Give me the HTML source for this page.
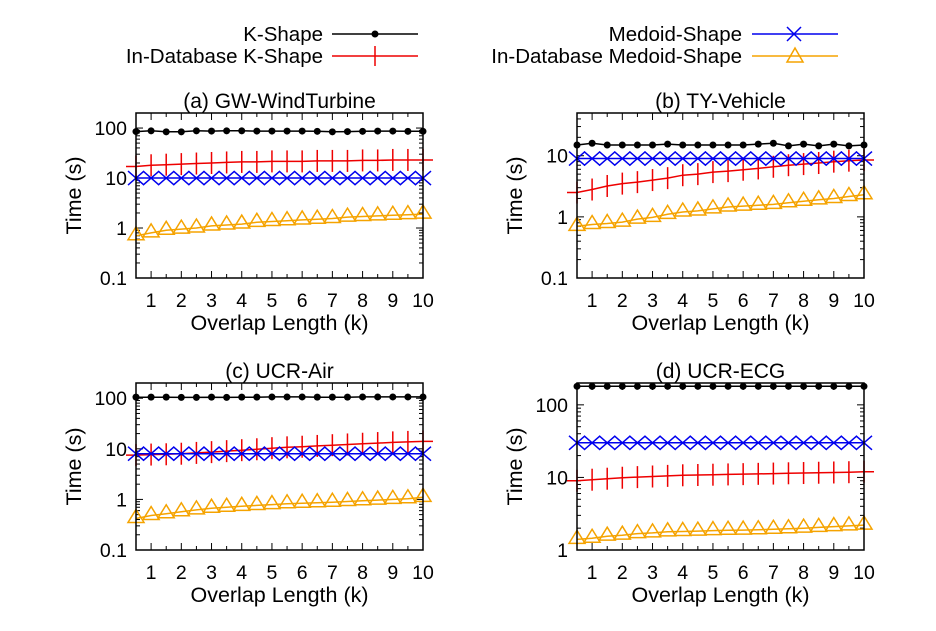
<!DOCTYPE html>
<html><head><meta charset="utf-8"><style>
body{margin:0;background:#fff;}
svg text{font-family:"Liberation Sans",sans-serif;fill:#000;}
</style></head><body>
<svg id="c" width="936" height="626" xmlns="http://www.w3.org/2000/svg">
<g>
 <g>
  <text x="323" y="41" font-size="20.5" text-anchor="end">K-Shape</text>
  <line x1="332" y1="34" x2="418" y2="34" stroke="#000" stroke-width="1.5"/><circle cx="375" cy="34" r="3.5" fill="#000"/>
 </g>
 <g>
  <text x="323" y="63" font-size="20.5" text-anchor="end">In-Database K-Shape</text>
  <line x1="332" y1="56" x2="418" y2="56" stroke="#e00" stroke-width="1.5"/><line x1="375" y1="46" x2="375" y2="66" stroke="#e00" stroke-width="1.5"/>
 </g>
 <g>
  <text x="742" y="41" font-size="20.5" text-anchor="end">Medoid-Shape</text>
  <line x1="752" y1="34" x2="838" y2="34" stroke="#00e" stroke-width="1.5"/><path d="M787 27L801 41M787 41L801 27" stroke="#00e" stroke-width="1.5"/>
 </g>
 <g>
  <text x="742" y="63" font-size="20.5" text-anchor="end">In-Database Medoid-Shape</text>
  <line x1="752" y1="56" x2="838" y2="56" stroke="#f5a300" stroke-width="1.5"/><path d="M795 48L803 62L787 62Z" fill="none" stroke="#f5a300" stroke-width="1.5"/>
 </g>
</g>
</svg>
<script>
const xs=[0.5,1,1.5,2,2.5,3,3.5,4,4.5,5,5.5,6,6.5,7,7.5,8,8.5,9,9.5,10];
const xTicks=[1,2,3,4,5,6,7,8,9,10];
const titles=["(a) GW-WindTurbine","(b) TY-Vehicle","(c) UCR-Air","(d) UCR-ECG"];
const kA=[85,88,84,84,88,87,88,88,87,87,87,87,86,84,85,86,87,87,86,86];
const rA=[17,18,18.5,19,19.5,20,20.5,21,21,21.5,21.5,21.5,22,22,22,22.5,22.5,23,23,23];
const bA=[10,10,10,10,10,10,10,10,10,10,10,10,10,10,10,10,10,10,10,10];
const oA=[0.7,0.8,0.9,0.95,1.0,1.1,1.15,1.2,1.3,1.35,1.4,1.45,1.5,1.55,1.65,1.7,1.75,1.8,1.85,1.9];
const kB=[15,16,15,15,15,15,15.5,15,15,15,15,15,15.5,16,14.5,15.5,14.5,15.5,14.5,15];
const rB=[2.5,2.8,3.2,3.5,3.7,4.0,4.3,4.8,5.0,5.4,5.6,5.9,6.2,6.6,7.0,7.3,7.6,8.0,8.3,8.5];
const bB=[9,9,9,9,9,9,9,9,9,9,9,9,9,9,9,9,9,9,9,9];
const oB=[0.7,0.75,0.78,0.82,0.92,0.98,1.1,1.2,1.25,1.35,1.45,1.5,1.55,1.6,1.7,1.8,1.9,2.0,2.15,2.3];
const kC=[105,105,105,104,104,105,104,105,105,106,106,106,105,105,105,106,106,106,106,106];
const rC=[7.5,7.7,7.8,8.0,8.3,8.6,9.0,9.4,9.8,10.3,10.7,11.0,11.4,11.8,12.2,12.6,13.0,13.4,13.7,14];
const bC=[8,8,8,8,8,8,8,8,8,8,8,8,8,8,8,8,8,8,8,8];
const oC=[0.42,0.48,0.52,0.57,0.62,0.67,0.7,0.73,0.76,0.79,0.82,0.84,0.86,0.88,0.91,0.94,0.97,1.0,1.03,1.1];
const kD=[180,180,180,180,180,180,180,180,180,180,180,180,180,180,180,180,180,180,180,180];
const rD=[9,9.3,9.6,9.9,10.1,10.3,10.5,10.7,10.8,10.9,11.0,11.1,11.2,11.3,11.4,11.5,11.6,11.7,11.8,12];
const bD=[30,30,30,30,30,30,30,30,30,30,30,30,30,30,30,30,30,30,30,30];
const oD=[1.4,1.45,1.55,1.6,1.68,1.72,1.78,1.8,1.82,1.85,1.87,1.88,1.9,1.93,1.96,2.0,2.05,2.1,2.15,2.2];
const yTicksA=[0.1,1,10,100];
const yTicksD=[1,10,100];
const NS="http://www.w3.org/2000/svg";
const svg=document.getElementById('c');
function mk(tag,attrs,parent){const e=document.createElementNS(NS,tag);for(const k in attrs)e.setAttribute(k,attrs[k]);(parent||svg).appendChild(e);return e;}
const panels=[
 {box:[136,113,423,278],ymin:0.1,ymax:200,ticks:yTicksA,data:[kA,rA,bA,oA]},
 {box:[577,113,864,278],ymin:0.1,ymax:50,ticks:yTicksA,data:[kB,rB,bB,oB]},
 {box:[136,383,423,550],ymin:0.1,ymax:200,ticks:yTicksA,data:[kC,rC,bC,oC]},
 {box:[577,383,864,550],ymin:1,ymax:200,ticks:yTicksD,data:[kD,rD,bD,oD]}];
const cols=["#000","#e00","#00e","#f5a300"];
const names=["kshape","indb-kshape","medoid-shape","indb-medoid-shape"];
panels.forEach((p,pi)=>{
 const [x0,y0,x1,y1]=p.box;
 const X=v=>x0+(v-0.5)/(10-0.5)*(x1-x0);
 const Y=v=>y1-(Math.log10(v)-Math.log10(p.ymin))/(Math.log10(p.ymax)-Math.log10(p.ymin))*(y1-y0);
 const g=mk('g',{});
 
 
 const t=mk('text',{x:(x0+x1)/2,y:y0-5,'font-size':21,'text-anchor':'middle'},g);t.textContent=titles[pi];
 
 
 for(let d=Math.floor(Math.log10(p.ymin));d<Math.log10(p.ymax);d++){
  for(let m=1;m<10;m++){const v=m*Math.pow(10,d);if(v<p.ymin||v>p.ymax)continue;const y=Y(v);const L=m==1?7:4;
   mk('line',{x1:x0,y1:y,x2:x0+L,y2:y,stroke:'#000','stroke-width':1},g);
   mk('line',{x1:x1,y1:y,x2:x1-L,y2:y,stroke:'#000','stroke-width':1},g);}
 }
 p.ticks.filter(v=>v<=p.ymax).forEach(v=>{const tt=mk('text',{x:x0-9,y:Y(v)+7,'font-size':19.5,'text-anchor':'end'},g);tt.textContent=v;
  
  });
 xs.forEach(v=>{const x=X(v);const L=Number.isInteger(v)?7:4;
  mk('line',{x1:x,y1:y1,x2:x,y2:y1-L,stroke:'#000','stroke-width':1},g);
  mk('line',{x1:x,y1:y0,x2:x,y2:y0+L,stroke:'#000','stroke-width':1},g);});
 xTicks.forEach(v=>{const tt=mk('text',{x:X(v),y:y1+29,'font-size':19.5,'text-anchor':'middle'},g);tt.textContent=v;
  
  });
 const xl=mk('text',{x:(x0+x1)/2,y:y1+52,'font-size':21.5,'text-anchor':'middle'},g);xl.textContent='Overlap Length (k)';
 
 
 const yl=mk('text',{x:0,y:0,'font-size':21.5,'text-anchor':'middle',transform:`translate(${x0-55},${(y0+y1)/2}) rotate(-90)`},g);yl.textContent='Time (s)';
 
 
 p.data.forEach((arr,si)=>{
  const s=mk('g',{},g);
  
  
  let d='';arr.forEach((v,i)=>{d+=(i?'L':'M')+X(xs[i]).toFixed(1)+' '+Y(v).toFixed(1);});
  if(si==1){d='M'+(x0-10)+' '+Y(arr[0]).toFixed(1)+d.replace(/^M/,'L');d+='L'+(x1+10)+' '+Y(arr[19]).toFixed(1);}
  mk('path',{d:d,fill:'none',stroke:cols[si],'stroke-width':1.5},s);
  arr.forEach((v,i)=>{const x=X(xs[i]),y=Y(v);let m;
   if(si==0)m=mk('circle',{cx:x,cy:y,r:3.5,fill:'#000'},s);
   else if(si==1)m=mk('line',{x1:x,y1:y-11,x2:x,y2:y+11,stroke:cols[1],'stroke-width':1.5},s);
   else if(si==2)m=mk('path',{d:`M${x-8} ${y-7}L${x+8} ${y+7}M${x-8} ${y+7}L${x+8} ${y-7}`,stroke:cols[2],'stroke-width':1.5},s);
   else m=mk('path',{d:`M${x} ${y-9}L${x+8} ${y+4}L${x-8} ${y+4}Z`,fill:'none',stroke:cols[3],'stroke-width':1.5},s);
   
   });
 });
 mk('rect',{x:x0,y:y0,width:x1-x0,height:y1-y0,fill:'none',stroke:'#000','stroke-width':1.5},g);
});
</script>
</body></html>
